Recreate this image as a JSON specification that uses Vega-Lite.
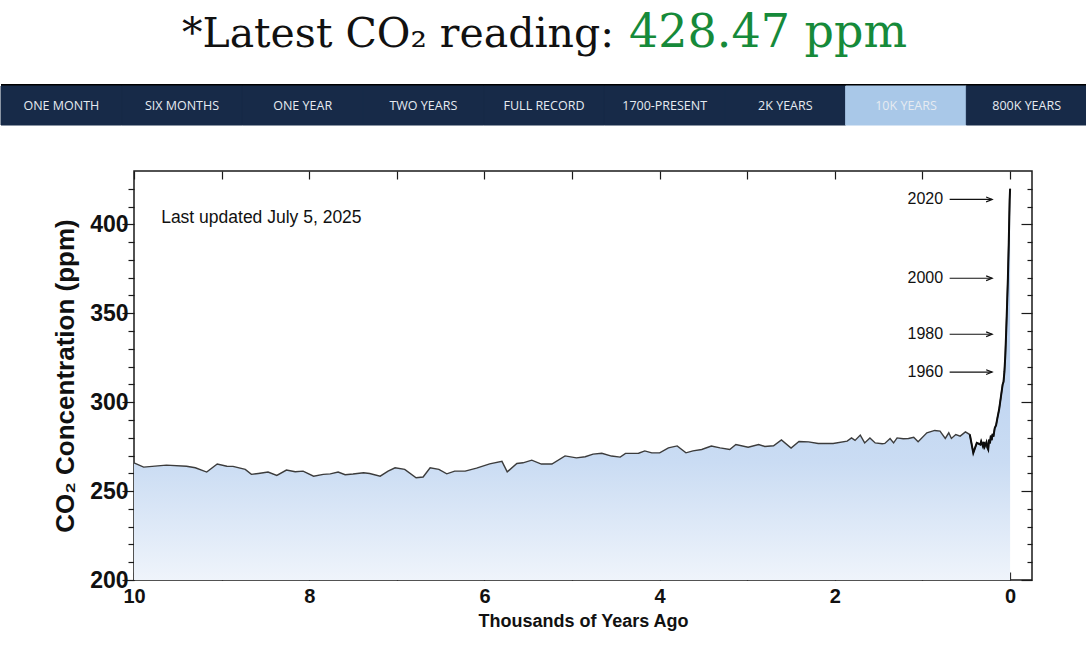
{
  "$schema": "https://vega.github.io/schema/vega-lite/v6.json",
  "padding": 0,
  "background": "#ffffff",
  "spacing": 43,
  "config": {"view": {"stroke": null}, "font": "Liberation Sans"},
  "datasets": {
    "co2": [
      {"kyr": 10.0, "ppm": 265.9}, {"kyr": 9.89, "ppm": 263.5}, {"kyr": 9.63, "ppm": 264.6}, {"kyr": 9.40, "ppm": 264.0},
      {"kyr": 9.30, "ppm": 263.1}, {"kyr": 9.17, "ppm": 260.7}, {"kyr": 9.05, "ppm": 265.2}, {"kyr": 8.94, "ppm": 264.0},
      {"kyr": 8.87, "ppm": 263.9}, {"kyr": 8.73, "ppm": 262.2}, {"kyr": 8.66, "ppm": 259.4}, {"kyr": 8.58, "ppm": 259.9},
      {"kyr": 8.47, "ppm": 260.7}, {"kyr": 8.37, "ppm": 258.8}, {"kyr": 8.26, "ppm": 261.8}, {"kyr": 8.16, "ppm": 260.9},
      {"kyr": 8.07, "ppm": 261.2}, {"kyr": 7.95, "ppm": 258.4}, {"kyr": 7.84, "ppm": 259.4}, {"kyr": 7.76, "ppm": 259.7},
      {"kyr": 7.67, "ppm": 260.7}, {"kyr": 7.59, "ppm": 259.2}, {"kyr": 7.50, "ppm": 259.6}, {"kyr": 7.38, "ppm": 260.3},
      {"kyr": 7.31, "ppm": 259.9}, {"kyr": 7.19, "ppm": 258.4}, {"kyr": 7.10, "ppm": 261.2}, {"kyr": 7.02, "ppm": 263.1},
      {"kyr": 6.91, "ppm": 262.2}, {"kyr": 6.78, "ppm": 257.5}, {"kyr": 6.70, "ppm": 257.9}, {"kyr": 6.62, "ppm": 263.1},
      {"kyr": 6.52, "ppm": 262.2}, {"kyr": 6.43, "ppm": 259.7}, {"kyr": 6.34, "ppm": 261.2}, {"kyr": 6.22, "ppm": 261.2},
      {"kyr": 6.09, "ppm": 262.9}, {"kyr": 5.94, "ppm": 265.3}, {"kyr": 5.80, "ppm": 266.7}, {"kyr": 5.74, "ppm": 260.8},
      {"kyr": 5.63, "ppm": 265.5}, {"kyr": 5.56, "ppm": 265.9}, {"kyr": 5.46, "ppm": 267.4}, {"kyr": 5.35, "ppm": 265.2},
      {"kyr": 5.23, "ppm": 265.2}, {"kyr": 5.08, "ppm": 269.8}, {"kyr": 4.95, "ppm": 268.7}, {"kyr": 4.85, "ppm": 269.3},
      {"kyr": 4.76, "ppm": 270.8}, {"kyr": 4.66, "ppm": 271.3}, {"kyr": 4.55, "ppm": 269.7}, {"kyr": 4.45, "ppm": 269.1},
      {"kyr": 4.39, "ppm": 271.2}, {"kyr": 4.24, "ppm": 271.3}, {"kyr": 4.17, "ppm": 272.6}, {"kyr": 4.09, "ppm": 271.5},
      {"kyr": 4.00, "ppm": 271.5}, {"kyr": 3.90, "ppm": 274.3}, {"kyr": 3.80, "ppm": 275.4}, {"kyr": 3.70, "ppm": 271.5},
      {"kyr": 3.62, "ppm": 272.6}, {"kyr": 3.52, "ppm": 273.4}, {"kyr": 3.41, "ppm": 275.3}, {"kyr": 3.31, "ppm": 274.3},
      {"kyr": 3.20, "ppm": 273.4}, {"kyr": 3.13, "ppm": 276.2}, {"kyr": 2.99, "ppm": 274.7}, {"kyr": 2.87, "ppm": 276.2},
      {"kyr": 2.80, "ppm": 275.1}, {"kyr": 2.70, "ppm": 275.5}, {"kyr": 2.61, "ppm": 278.8}, {"kyr": 2.50, "ppm": 274.2},
      {"kyr": 2.41, "ppm": 277.9}, {"kyr": 2.30, "ppm": 277.7}, {"kyr": 2.19, "ppm": 276.8}, {"kyr": 2.02, "ppm": 276.8},
      {"kyr": 1.86, "ppm": 278.1}, {"kyr": 1.81, "ppm": 279.9}, {"kyr": 1.77, "ppm": 278.5}, {"kyr": 1.71, "ppm": 281.5},
      {"kyr": 1.66, "ppm": 277.1}, {"kyr": 1.60, "ppm": 279.9}, {"kyr": 1.54, "ppm": 277.1}, {"kyr": 1.46, "ppm": 276.6},
      {"kyr": 1.43, "ppm": 276.8}, {"kyr": 1.37, "ppm": 279.6}, {"kyr": 1.33, "ppm": 277.1}, {"kyr": 1.29, "ppm": 279.9},
      {"kyr": 1.22, "ppm": 279.4}, {"kyr": 1.16, "ppm": 279.6}, {"kyr": 1.10, "ppm": 280.3}, {"kyr": 1.05, "ppm": 277.7},
      {"kyr": 0.95, "ppm": 282.8}, {"kyr": 0.86, "ppm": 284.1}, {"kyr": 0.80, "ppm": 283.7}, {"kyr": 0.74, "ppm": 279.6},
      {"kyr": 0.70, "ppm": 282.8}, {"kyr": 0.67, "ppm": 279.6}, {"kyr": 0.62, "ppm": 281.8}, {"kyr": 0.57, "ppm": 280.9},
      {"kyr": 0.51, "ppm": 283.3}, {"kyr": 0.46, "ppm": 281.8}, {"kyr": 0.42, "ppm": 271.5}, {"kyr": 0.38, "ppm": 277.1},
      {"kyr": 0.34, "ppm": 276.2}, {"kyr": 0.33, "ppm": 278.0}, {"kyr": 0.31, "ppm": 275.2}, {"kyr": 0.30, "ppm": 277.6},
      {"kyr": 0.29, "ppm": 275.0}, {"kyr": 0.27, "ppm": 277.5}, {"kyr": 0.26, "ppm": 274.5}, {"kyr": 0.25, "ppm": 273.4},
      {"kyr": 0.24, "ppm": 279.0}, {"kyr": 0.23, "ppm": 276.8}, {"kyr": 0.22, "ppm": 281.2}, {"kyr": 0.21, "ppm": 278.6},
      {"kyr": 0.20, "ppm": 282.2}, {"kyr": 0.19, "ppm": 280.6}, {"kyr": 0.18, "ppm": 284.0}, {"kyr": 0.175, "ppm": 285.5},
      {"kyr": 0.16, "ppm": 287.0}, {"kyr": 0.145, "ppm": 291.0}, {"kyr": 0.125, "ppm": 296.0}, {"kyr": 0.105, "ppm": 303.0},
      {"kyr": 0.085, "ppm": 310.0}, {"kyr": 0.075, "ppm": 311.5}, {"kyr": 0.065, "ppm": 317.0}, {"kyr": 0.055, "ppm": 326.0},
      {"kyr": 0.045, "ppm": 339.0}, {"kyr": 0.035, "ppm": 354.0}, {"kyr": 0.025, "ppm": 370.0}, {"kyr": 0.015, "ppm": 390.0},
      {"kyr": 0.005, "ppm": 414.0}, {"kyr": 0.0, "ppm": 420.0}
    ],
    "years": [
      {"year": "2020", "ppm": 414.0}, {"year": "2000", "ppm": 369.7},
      {"year": "1980", "ppm": 338.2}, {"year": "1960", "ppm": 316.9}
    ]
  },
  "vconcat": [
    {
      "spacing": 18,
      "vconcat": [
        {
          "width": 1086,
          "height": 66,
          "data": {"values": [{"part": "label", "text": "*Latest CO₂ reading:"}, {"part": "value", "text": "428.47 ppm"}]},
          "layer": [
            {
              "transform": [{"filter": "datum.part === 'label'"}],
              "mark": {"type": "text", "font": "DejaVu Serif", "fontSize": 41, "align": "right", "baseline": "alphabetic", "dx": 70, "dy": 14, "color": "#111111"},
              "encoding": {"text": {"field": "text"}}
            },
            {
              "transform": [{"filter": "datum.part === 'value'"}],
              "mark": {"type": "text", "font": "DejaVu Serif", "fontSize": 46, "align": "left", "baseline": "alphabetic", "dx": 85, "dy": 14, "color": "#168a3a"},
              "encoding": {"text": {"field": "text"}}
            }
          ]
        },
        {
          "width": 1086,
          "height": 41,
          "view": {"fill": "#000000"},
          "data": {"values": [
            {"label": "ONE MONTH"}, {"label": "SIX MONTHS"}, {"label": "ONE YEAR"}, {"label": "TWO YEARS"},
            {"label": "FULL RECORD"}, {"label": "1700-PRESENT"}, {"label": "2K YEARS"}, {"label": "10K YEARS"}, {"label": "800K YEARS"}
          ]},
          "encoding": {
            "x": {"field": "label", "type": "nominal", "sort": null, "scale": {"paddingInner": 0, "paddingOuter": 0}, "axis": null}
          },
          "layer": [
            {
              "mark": {"type": "bar", "yOffset": 2, "strokeWidth": 1},
              "encoding": {
                "color": {"condition": {"test": "datum.label === '10K YEARS'", "value": "#a9c8e8"}, "value": "#172a48"},
                "stroke": {"condition": {"test": "datum.label === '10K YEARS'", "value": "#a9c8e8"}, "value": "#172a48"}
              }
            },
            {
              "mark": {"type": "text", "font": "Open Sans", "fontSize": 12.5, "dy": 1.5, "color": "#e6ebf1"},
              "encoding": {"text": {"field": "label"}}
            }
          ]
        }
      ]
    },
    {
      "spacing": 20,
      "hconcat": [
        {
          "width": 30,
          "height": 10,
          "data": {"values": [{"k": 1}]},
          "mark": {"type": "point", "opacity": 0},
          "encoding": {}
        },
        {
          "width": 898,
          "height": 409,
          "view": {"stroke": "#1a1a1a", "strokeWidth": 1.5},
          "resolve": {"axis": {"x": "independent", "y": "independent"}},
          "layer": [
            {
              "data": {"name": "co2"},
              "mark": {
                "type": "area",
                "color": {"gradient": "linear", "x1": 0, "y1": 0, "x2": 0, "y2": 1,
                  "stops": [{"offset": 0, "color": "#a9c6ec"}, {"offset": 0.7, "color": "#cadcf3"}, {"offset": 1, "color": "#eff4fb"}]}
              },
              "encoding": {
                "x": {
                  "field": "kyr", "type": "quantitative",
                  "scale": {"domain": [-0.25, 10], "reverse": true, "nice": false, "zero": false},
                  "axis": {
                    "orient": "bottom", "values": [0, 1, 2, 3, 4, 5, 6, 7, 8, 9, 10],
                    "labelExpr": "datum.value % 2 === 0 ? datum.label : ''",
                    "title": "Thousands of Years Ago", "domain": false, "grid": false,
                    "labelFlush": false, "tickSize": 6, "labelPadding": 0,
                    "tickColor": "#1a1a1a", "tickWidth": 1.2,
                    "encoding": {"ticks": {"y2": {"value": -8}}},
                    "labelFont": "Liberation Sans", "labelFontSize": 20, "labelFontWeight": "bold", "labelColor": "#111111",
                    "titleFont": "Liberation Sans", "titleFontSize": 18, "titleFontWeight": "bold", "titleColor": "#111111", "titlePadding": 6
                  }
                },
                "y": {
                  "field": "ppm", "type": "quantitative",
                  "scale": {"domain": [200, 430], "nice": false, "zero": false},
                  "axis": {
                    "orient": "left", "values": [200, 210, 220, 230, 240, 250, 260, 270, 280, 290, 300, 310, 320, 330, 340, 350, 360, 370, 380, 390, 400, 410, 420],
                    "labelExpr": "datum.value % 50 === 0 ? datum.label : ''",
                    "title": "CO₂ Concentration (ppm)", "domain": false, "grid": false,
                    "labelFlush": false, "tickSize": 6, "labelPadding": 0,
                    "tickColor": "#1a1a1a", "tickWidth": 1.2,
                    "encoding": {"ticks": {"x2": {"value": {"expr": "datum.value % 50 === 0 ? -12 : -6"}}}},
                    "labelFont": "Liberation Sans", "labelFontSize": 23, "labelFontWeight": "bold", "labelColor": "#111111",
                    "titleFont": "Liberation Sans", "titleFontSize": 26, "titleFontWeight": "bold", "titleColor": "#111111", "titlePadding": 11
                  }
                },
                "y2": {"datum": 200}
              }
            },
            {
              "data": {"name": "co2"},
              "mark": {"type": "line", "color": "#3c3c3c", "strokeWidth": 1.4},
              "encoding": {
                "x": {
                  "field": "kyr", "type": "quantitative",
                  "axis": {
                    "orient": "top", "values": [0, 1, 2, 3, 4, 5, 6, 7, 8, 9, 10], "labels": false, "title": null,
                    "domain": false, "grid": false, "tickSize": 6, "tickColor": "#1a1a1a", "tickWidth": 1.2,
                    "encoding": {"ticks": {"y2": {"value": 8}}}
                  }
                },
                "y": {
                  "field": "ppm", "type": "quantitative",
                  "axis": {
                    "orient": "right", "values": [200, 210, 220, 230, 240, 250, 260, 270, 280, 290, 300, 310, 320, 330, 340, 350, 360, 370, 380, 390, 400, 410, 420],
                    "labels": false, "title": null, "domain": false, "grid": false, "tickSize": 6, "tickColor": "#1a1a1a", "tickWidth": 1.2,
                    "encoding": {"ticks": {"x2": {"value": {"expr": "datum.value % 50 === 0 ? -11 : -5"}}}}
                  }
                }
              }
            },
            {
              "data": {"name": "co2"},
              "transform": [{"filter": "datum.kyr <= 0.47"}],
              "mark": {"type": "line", "color": "#0d0d0d", "strokeWidth": 2},
              "encoding": {
                "x": {"field": "kyr", "type": "quantitative", "axis": null},
                "y": {"field": "ppm", "type": "quantitative", "axis": null}
              }
            },
            {
              "data": {"values": [{"note": "Last updated July 5, 2025"}]},
              "mark": {"type": "text", "align": "left", "baseline": "middle", "font": "Liberation Sans", "fontSize": 17.5, "color": "#111111"},
              "encoding": {
                "x": {"datum": 9.69, "type": "quantitative", "axis": null},
                "y": {"datum": 403.4, "type": "quantitative", "axis": null},
                "text": {"field": "note"}
              }
            },
            {
              "data": {"name": "years"},
              "mark": {"type": "text", "align": "right", "baseline": "middle", "font": "Liberation Sans", "fontSize": 16, "color": "#111111"},
              "encoding": {
                "x": {"datum": 0.765, "type": "quantitative", "axis": null},
                "y": {"field": "ppm", "type": "quantitative", "axis": null},
                "text": {"field": "year"}
              }
            },
            {
              "data": {"name": "years"},
              "mark": {"type": "rule", "color": "#111111", "strokeWidth": 1.2},
              "encoding": {
                "x": {"datum": 0.69, "type": "quantitative", "axis": null},
                "x2": {"datum": 0.205},
                "y": {"field": "ppm", "type": "quantitative", "axis": null}
              }
            },
            {
              "data": {"name": "years"},
              "mark": {"type": "point", "shape": "M-2,-0.8L0,0L-2,0.8", "filled": false, "size": 36, "color": "#111111", "strokeWidth": 1.2, "opacity": 1},
              "encoding": {
                "x": {"datum": 0.205, "type": "quantitative", "axis": null},
                "y": {"field": "ppm", "type": "quantitative", "axis": null}
              }
            }
          ]
        }
      ]
    }
  ]
}
